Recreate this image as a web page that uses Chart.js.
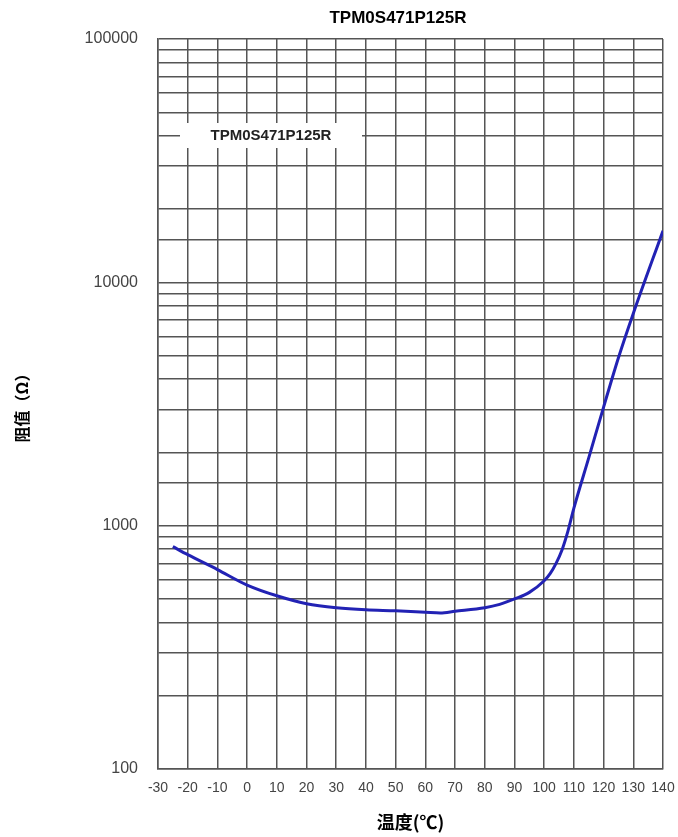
<!DOCTYPE html>
<html>
<head>
<meta charset="utf-8">
<script src="https://cdn.jsdelivr.net/npm/chart.js@4"></script>
<style>
  body { margin: 0; background: #fff; }
  #wrap { width: 678px; height: 837px; position: relative; }
</style>
</head>
<body>
<div id="wrap"><canvas id="ptcChart"></canvas></div>
<script>
const chartTitle = "TPM0S471P125R";
const seriesName = "TPM0S471P125R";
const temperatures = [-25, -20, -10, 0, 10, 20, 30, 40, 50, 60, 65, 70, 80, 85, 90, 95, 100, 102, 104, 106, 108, 110, 115, 120, 125, 130, 140];
const resistance = [820, 760, 660, 570, 515, 478, 460, 451, 447, 441, 438, 445, 460, 475, 500, 532, 594, 635, 700, 795, 950, 1180, 1900, 3070, 4900, 7450, 16300];
const xTitle = "温度(℃)";
const yTitle = "阻值（Ω）";

// white label box sitting on the grid, plus the title above the plot
const overlayPlugin = {
  id: "overlay",
  afterDraw(chart) {
    const ctx = chart.ctx;
    const area = chart.chartArea;
    ctx.save();
    ctx.fillStyle = "#000";
    ctx.font = "bold 17px 'Liberation Sans', Arial, sans-serif";
    ctx.textAlign = "center";
    ctx.textBaseline = "middle";
    ctx.fillText(chartTitle, 398, 18);

    ctx.fillStyle = "#fff";
    ctx.fillRect(area.left + 22, area.top + 84, 182, 25);
    ctx.fillStyle = "#222";
    ctx.font = "bold 15px 'Liberation Sans', Arial, sans-serif";
    ctx.fillText(seriesName, area.left + 113, area.top + 97);
    ctx.restore();
  }
};

const ctx = document.getElementById("ptcChart").getContext("2d");
new Chart(ctx, {
  type: "line",
  data: {
    datasets: [
      {
        label: seriesName,
        data: temperatures.map((t, i) => ({ x: t, y: resistance[i] })),
        borderColor: "#2222b4",
        borderWidth: 3,
        pointRadius: 0,
        fill: false,
        cubicInterpolationMode: "monotone",
      },
    ],
  },
  options: {
    responsive: true,
    maintainAspectRatio: false,
    animation: false,
    layout: { padding: { top: 39, right: 15, left: 0, bottom: 0 } },
    plugins: {
      legend: { display: false },
      tooltip: { enabled: false },
      title: { display: false },
    },
    scales: {
      x: {
        type: "linear",
        min: -30,
        max: 140,
        afterFit: (scale) => {
          scale.height = 68;
          scale.paddingLeft = 0;
          scale.paddingRight = 0;
        },
        grid: { color: "#555", lineWidth: 1.5, drawTicks: false },
        border: { color: "#555", width: 1.5 },
        ticks: {
          stepSize: 10,
          padding: 11,
          color: "#444",
          font: { size: 14, family: "'Liberation Sans', Arial, sans-serif" },
          maxRotation: 0,
          autoSkip: false,
        },
        title: {
          display: true,
          text: xTitle,
          color: "#000",
          padding: { top: 0, bottom: 4 },
          font: { size: 18, weight: "bold", family: "'Noto Sans CJK SC', sans-serif" },
        },
      },
      y: {
        type: "logarithmic",
        min: 100,
        max: 100000,
        afterFit: (scale) => {
          scale.width = 158;
          scale.paddingTop = 0;
          scale.paddingBottom = 0;
        },
        grid: { color: "#555", lineWidth: 1.5, drawTicks: false },
        border: { color: "#555", width: 1.5 },
        ticks: {
          autoSkip: false,
          padding: 20,
          color: "#444",
          font: { size: 16, family: "'Liberation Sans', Arial, sans-serif" },
          callback: function (value) {
            const p = Math.log10(value);
            return Math.abs(p - Math.round(p)) < 1e-9 ? String(value) : "";
          },
        },
        title: {
          display: true,
          text: yTitle,
          color: "#000",
          padding: { top: 12, bottom: 0 },
          font: { size: 16, weight: "bold", family: "'Noto Sans CJK SC', sans-serif" },
        },
      },
    },
  },
  plugins: [overlayPlugin],
});
</script>
</body>
</html>
